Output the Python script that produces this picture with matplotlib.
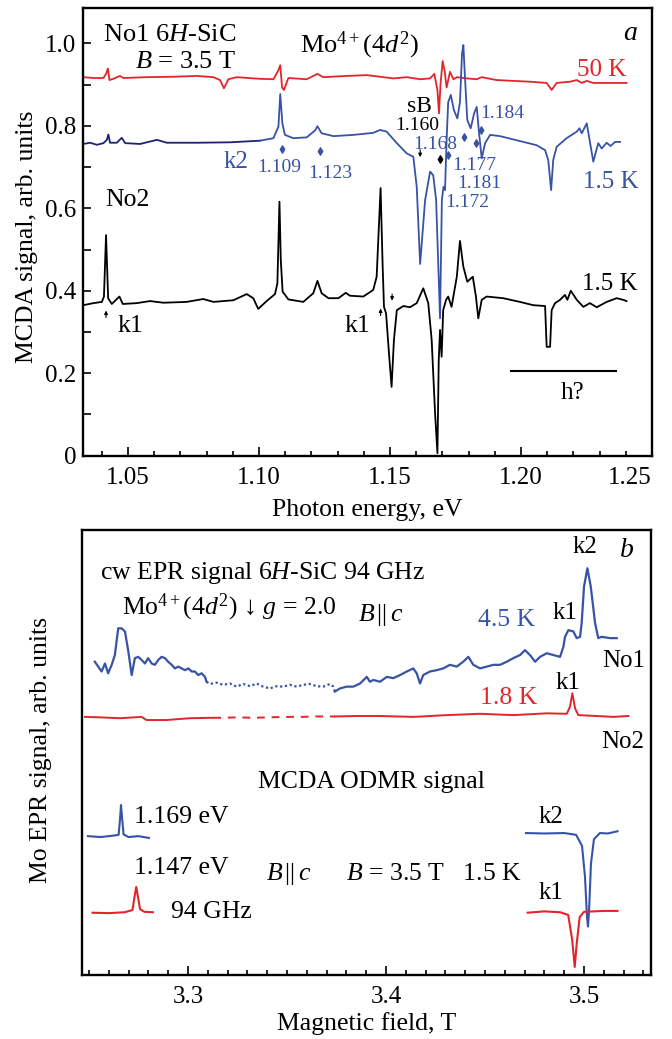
"""MCDA spectra and EPR / ODMR of Mo in 6H-SiC"""

import matplotlib.pyplot as plt
from matplotlib.ticker import MultipleLocator, FixedLocator

plt.rcParams["font.family"] = ["Liberation Serif", "DejaVu Serif"]
plt.rcParams["mathtext.fontset"] = "custom"
plt.rcParams["mathtext.rm"] = "Liberation Serif"
plt.rcParams["mathtext.it"] = "Liberation Serif:italic"

RED = "#e2252b"
BLUE = "#3853a6"
NAVY = "#1d2372"

# (a) MCDA spectra, photon energy (eV) vs signal (arb. units)
e_50k = [1.0329, 1.0368, 1.0406, 1.0416, 1.0423, 1.0429, 1.0444, 1.0469, 1.0482, 1.0571,
         1.0673, 1.0762, 1.0826, 1.0851, 1.0866, 1.0883, 1.0915, 1.1004, 1.1055, 1.1074,
         1.1081, 1.1088, 1.1095, 1.1112, 1.1182, 1.1223, 1.1245, 1.1335, 1.1411, 1.1462,
         1.1513, 1.1564, 1.1615, 1.1653, 1.1669, 1.1681, 1.1687, 1.1693, 1.1701, 1.1709,
         1.1716, 1.1729, 1.1742, 1.1757, 1.1793, 1.1831, 1.1850, 1.1907, 1.1971, 1.2034,
         1.2098, 1.2117, 1.2136, 1.2187, 1.2213, 1.2232, 1.2251, 1.2276, 1.2352, 1.2403]
s_50k = [0.918, 0.916, 0.916, 0.926, 0.939, 0.911, 0.914, 0.921, 0.916, 0.918,
         0.919, 0.921, 0.918, 0.911, 0.891, 0.913, 0.918, 0.914, 0.913, 0.935,
         0.947, 0.893, 0.887, 0.916, 0.913, 0.926, 0.918, 0.921, 0.923, 0.919,
         0.915, 0.918, 0.913, 0.915, 0.926, 0.887, 0.830, 0.903, 0.957, 0.931,
         0.893, 0.931, 0.913, 0.918, 0.915, 0.913, 0.918, 0.911, 0.909, 0.907,
         0.904, 0.887, 0.904, 0.907, 0.911, 0.904, 0.909, 0.904, 0.904, 0.904]

e_no1 = [1.0329, 1.0355, 1.0381, 1.0406, 1.0419, 1.0425, 1.0431, 1.0457, 1.0476, 1.0489,
         1.0546, 1.0610, 1.0648, 1.0762, 1.0889, 1.1004, 1.1055, 1.1074, 1.1081, 1.1089,
         1.1099, 1.1131, 1.1182, 1.1214, 1.1223, 1.1239, 1.1284, 1.1360, 1.1436, 1.1462,
         1.1487, 1.1526, 1.1564, 1.1589, 1.1602, 1.1615, 1.1634, 1.1653, 1.1665, 1.1676,
         1.1691, 1.1698, 1.1704, 1.1710, 1.1716, 1.1722, 1.1732, 1.1744, 1.1757, 1.1767,
         1.1775, 1.1780, 1.1786, 1.1795, 1.1808, 1.1821, 1.1831, 1.1840, 1.1850, 1.1863,
         1.1882, 1.1920, 1.1971, 1.2009, 1.2060, 1.2092, 1.2104, 1.2115, 1.2123, 1.2136,
         1.2174, 1.2213, 1.2223, 1.2232, 1.2251, 1.2276, 1.2295, 1.2308, 1.2327, 1.2342,
         1.2359, 1.2378]
s_no1 = [0.756, 0.759, 0.754, 0.758, 0.766, 0.779, 0.759, 0.759, 0.771, 0.758,
         0.756, 0.766, 0.759, 0.759, 0.760, 0.764, 0.770, 0.798, 0.877, 0.806,
         0.778, 0.770, 0.772, 0.789, 0.799, 0.782, 0.775, 0.778, 0.783, 0.790,
         0.786, 0.758, 0.733, 0.725, 0.652, 0.465, 0.620, 0.689, 0.680, 0.620,
         0.333, 0.620, 0.652, 0.644, 0.765, 0.857, 0.875, 0.838, 0.818, 0.857,
         0.976, 0.996, 0.919, 0.814, 0.794, 0.830, 0.846, 0.782, 0.721, 0.758,
         0.778, 0.775, 0.767, 0.761, 0.753, 0.741, 0.717, 0.644, 0.717, 0.749,
         0.770, 0.786, 0.794, 0.782, 0.806, 0.713, 0.758, 0.745, 0.759, 0.751,
         0.761, 0.761]

e_no2 = [1.0329, 1.0368, 1.0400, 1.0408, 1.0416, 1.0424, 1.0438, 1.0467, 1.0480, 1.0533,
         1.0584, 1.0635, 1.0724, 1.0787, 1.0826, 1.0902, 1.0953, 1.0978, 1.0997, 1.1029,
         1.1061, 1.1070, 1.1078, 1.1083, 1.1090, 1.1112, 1.1169, 1.1207, 1.1223, 1.1239,
         1.1265, 1.1303, 1.1331, 1.1347, 1.1398, 1.1436, 1.1449, 1.1464, 1.1472, 1.1477,
         1.1485, 1.1497, 1.1506, 1.1515, 1.1526, 1.1551, 1.1576, 1.1602, 1.1627, 1.1646,
         1.1659, 1.1672, 1.1681, 1.1686, 1.1691, 1.1697, 1.1703, 1.1714, 1.1722, 1.1735,
         1.1755, 1.1767, 1.1780, 1.1795, 1.1816, 1.1828, 1.1837, 1.1850, 1.1869, 1.1932,
         1.1996, 1.2047, 1.2092, 1.2098, 1.2111, 1.2117, 1.2130, 1.2149, 1.2168, 1.2177,
         1.2190, 1.2213, 1.2238, 1.2263, 1.2289, 1.2327, 1.2365, 1.2390, 1.2403]
s_no2 = [0.365, 0.370, 0.373, 0.386, 0.535, 0.382, 0.368, 0.386, 0.368, 0.370,
         0.375, 0.371, 0.373, 0.380, 0.373, 0.377, 0.392, 0.382, 0.356, 0.375,
         0.392, 0.418, 0.616, 0.475, 0.398, 0.379, 0.373, 0.394, 0.424, 0.394,
         0.382, 0.382, 0.395, 0.388, 0.386, 0.402, 0.434, 0.649, 0.458, 0.361,
         0.345, 0.240, 0.167, 0.281, 0.353, 0.363, 0.360, 0.370, 0.406, 0.370,
         0.281, 0.103, 0.006, 0.232, 0.305, 0.240, 0.353, 0.378, 0.386, 0.361,
         0.434, 0.521, 0.458, 0.422, 0.434, 0.386, 0.333, 0.378, 0.386, 0.382,
         0.373, 0.365, 0.363, 0.264, 0.264, 0.353, 0.370, 0.378, 0.390, 0.378,
         0.400, 0.378, 0.361, 0.370, 0.360, 0.373, 0.382, 0.378, 0.375]

# line positions marked in (a)
blue_marks_e = [1.1089, 1.1231, 1.1723, 1.1782, 1.1827, 1.1847]
blue_marks_s = [0.745, 0.739, 0.729, 0.774, 0.758, 0.790]
h_bar_e = [1.1962, 1.2363]
h_bar_s = 0.206

# (b) EPR and ODMR, magnetic field (T) vs signal (arb. units)
f_epr45 = [3.2530, 3.2547, 3.2564, 3.2581, 3.2597, 3.2615, 3.2631, 3.2648, 3.2665, 3.2682,
           3.2698, 3.2716, 3.2732, 3.2749, 3.2766, 3.2783, 3.2799, 3.2817, 3.2833, 3.2850,
           3.2867, 3.2884, 3.2900, 3.2918, 3.2934, 3.2951, 3.2968, 3.2985, 3.3002, 3.3019,
           3.3035, 3.3052, 3.3069, 3.3086, 3.3094, 3.3111, 3.3145, 3.3178, 3.3212, 3.3246,
           3.3279, 3.3313, 3.3347, 3.3380, 3.3414, 3.3448, 3.3481, 3.3515, 3.3549, 3.3582,
           3.3616, 3.3650, 3.3683, 3.3717, 3.3734, 3.3742, 3.3768, 3.3802, 3.3835, 3.3869,
           3.3903, 3.3919, 3.3936, 3.3970, 3.4004, 3.4037, 3.4071, 3.4105, 3.4138, 3.4155,
           3.4172, 3.4188, 3.4222, 3.4256, 3.4289, 3.4323, 3.4357, 3.4390, 3.4416, 3.4441,
           3.4475, 3.4509, 3.4542, 3.4576, 3.4610, 3.4643, 3.4677, 3.4702, 3.4727, 3.4753,
           3.4778, 3.4812, 3.4845, 3.4879, 3.4896, 3.4904, 3.4921, 3.4946, 3.4963, 3.4980,
           3.4988, 3.5000, 3.5017, 3.5034, 3.5056, 3.5072, 3.5089, 3.5131, 3.5165]
s_epr45 = [70.4, 69.3, 68.2, 70.0, 67.8, 69.7, 71.9, 77.9, 77.9, 77.2,
           73.0, 67.4, 71.2, 71.5, 70.8, 70.0, 71.2, 70.0, 69.7, 70.8,
           71.5, 71.2, 70.4, 69.7, 68.9, 69.3, 68.9, 68.5, 68.9, 68.2,
           68.2, 67.4, 67.8, 67.0, 65.9, 65.4, 65.7, 65.2, 65.5, 64.8,
           65.4, 64.9, 65.5, 64.8, 64.4, 64.9, 64.8, 65.2, 64.8, 65.2,
           65.4, 64.9, 64.8, 65.4, 64.8, 63.7, 64.4, 64.8, 64.8, 65.5,
           67.0, 65.9, 66.3, 65.9, 67.0, 66.7, 67.4, 68.2, 68.9, 67.8,
           65.5, 67.4, 68.2, 68.5, 68.9, 69.7, 69.3, 70.4, 71.5, 69.7,
           68.9, 69.3, 69.7, 69.7, 70.4, 71.2, 71.9, 73.0, 71.9, 70.4,
           71.5, 72.3, 71.9, 71.5, 73.8, 76.0, 77.5, 77.2, 75.7, 76.0,
           79.0, 87.3, 91.4, 87.3, 79.0, 75.7, 76.0, 75.7, 75.7]

f_epr18 = [3.2480, 3.2556, 3.2657, 3.2766, 3.2791, 3.2892, 3.3010, 3.3128, 3.3170, 3.3250,
           3.3330, 3.3410, 3.3490, 3.3570, 3.3650, 3.3742, 3.3850, 3.3970, 3.4138, 3.4307,
           3.4475, 3.4643, 3.4812, 3.4913, 3.4929, 3.4941, 3.4955, 3.4971, 3.5064, 3.5148,
           3.5224]
s_epr18 = [58.0, 57.9, 57.7, 58.0, 57.3, 57.3, 57.7, 57.8, 57.8, 57.9,
           57.8, 57.9, 58.0, 58.0, 58.1, 58.1, 58.2, 58.2, 58.0, 58.4,
           58.7, 58.4, 58.8, 58.7, 60.3, 63.3, 59.9, 58.4, 58.2, 58.0,
           58.2]
gap_blue = (3.3094, 3.3742)
gap_red = (3.3128, 3.3742)

f_odmr1169 = [3.2495, 3.2560, 3.2620, 3.2650, 3.2657, 3.2662, 3.2668, 3.2675, 3.2700, 3.2750, 3.2803]
s_odmr1169 = [31.2, 31.0, 31.3, 31.5, 35.0, 38.2, 35.0, 31.6, 31.0, 31.2, 30.8]
f_odmr1147 = [3.2518, 3.2600, 3.2680, 3.2720, 3.2730, 3.2739, 3.2748, 3.2758, 3.2780, 3.2823]
s_odmr1147 = [14.0, 13.9, 14.1, 14.6, 17.5, 19.8, 17.5, 14.8, 14.2, 14.1]
f_odmr_k2 = [3.4707, 3.4800, 3.4900, 3.4960, 3.4990, 3.5005, 3.5015, 3.5020, 3.5025, 3.5035,
             3.5050, 3.5080, 3.5120, 3.5169]
s_odmr_k2 = [31.9, 31.8, 31.9, 31.5, 29.0, 22.0, 13.0, 10.9, 14.0, 25.0, 30.5, 31.9, 31.8, 32.3]
f_odmr_k1 = [3.4715, 3.4800, 3.4880, 3.4920, 3.4940, 3.4953, 3.4963, 3.4978, 3.5000, 3.5100, 3.5169]
s_odmr_k1 = [14.0, 14.3, 14.1, 13.5, 8.0, 1.8, 7.0, 13.0, 14.2, 14.4, 14.4]


def style_axis(ax):
    for sp in ax.spines.values():
        sp.set_linewidth(1.7)
    ax.tick_params(axis="both", which="both", direction="in", width=1.2,
                   labelsize=18, top=False, right=False)
    ax.tick_params(axis="x", which="major", length=6.5, pad=8)
    ax.tick_params(axis="x", which="minor", length=3.5)


fig = plt.figure(figsize=(6.72, 10.39), dpi=100)
ax_a = fig.add_axes([0.1235, 0.5614, 0.8467, 0.4306])
ax_b = fig.add_axes([0.1220, 0.0616, 0.8467, 0.4283])

# ---- panel a
ax = ax_a
split = e_no1.index(1.1004)
ax.plot(e_50k, s_50k, color=RED, lw=1.3)
ax.plot(e_no1[:split + 1], s_no1[:split + 1], color=NAVY, lw=1.3)
ax.plot(e_no1[split:], s_no1[split:], color=BLUE, lw=1.3)
ax.plot(e_no2, s_no2, color="black", lw=1.3)
ax.plot(h_bar_e, [h_bar_s, h_bar_s], color="black", lw=1.5)
ax.scatter(blue_marks_e, blue_marks_s, marker="d", s=14, color=BLUE, zorder=3)
ax.scatter([1.1691], [0.719], marker="d", s=14, color="black", zorder=3)
for x0, y0, y1 in [(1.0416, 0.335, 0.352), (1.1464, 0.340, 0.357),
                   (1.1508, 0.392, 0.376), (1.1615, 0.742, 0.724)]:
    ax.annotate("", xy=(x0, y1), xytext=(x0, y0),
                arrowprops=dict(arrowstyle="-|>", lw=0.8, color="black",
                                mutation_scale=5, shrinkA=0, shrinkB=0))

ax.set_xlim(1.0328, 1.25)
ax.set_ylim(0, 1.085)
ax.xaxis.set_major_locator(FixedLocator([1.05, 1.10, 1.15, 1.20, 1.25]))
ax.xaxis.set_minor_locator(MultipleLocator(0.01))
ax.set_xticklabels(["1.05", "1.10", "1.15", "1.20", "1.25"])
ax.xaxis.get_majorticklabels()[-1].set_horizontalalignment("right")
ax.yaxis.set_major_locator(FixedLocator([0, 0.2, 0.4, 0.6, 0.8, 1.0]))
ax.yaxis.set_minor_locator(MultipleLocator(0.1))
ax.set_yticklabels(["0", "0.2", "0.4", "0.6", "0.8", "1.0"])
style_axis(ax)
ax.tick_params(axis="y", which="both", length=6, pad=5)
ax.set_xlabel("Photon energy, eV", fontsize=18.5, va="center")
ax.xaxis.set_label_coords(0.5, -0.121)
ax.set_ylabel("MCDA signal, arb. units", fontsize=18.5, va="center")
ax.yaxis.set_label_coords(-0.099, 0.49)

texts_a = [
    (r"No1 6$H$-SiC", 1.0405, 1.020, "black", 19),
    (r"$B$ = 3.5 T", 1.0527, 0.955, "black", 19),
    (r"Mo$^{4+}$(4$d^2$)", 1.1156, 0.996, "black", 19),
    ("50 K", 1.2215, 0.935, RED, 18),
    ("sB", 1.1565, 0.846, "black", 17),
    ("1.160", 1.1520, 0.801, "black", 14),
    ("1.168", 1.1588, 0.754, BLUE, 14),
    ("1.184", 1.1844, 0.829, BLUE, 14),
    ("1.177", 1.1737, 0.704, BLUE, 14),
    ("1.181", 1.1756, 0.661, BLUE, 14),
    ("1.172", 1.1710, 0.613, BLUE, 14),
    ("1.5 K", 1.2237, 0.663, BLUE, 18),
    ("k2", 1.0863, 0.712, BLUE, 18),
    ("1.109", 1.0992, 0.700, BLUE, 14),
    ("1.123", 1.1187, 0.685, BLUE, 14),
    ("No2", 1.0412, 0.620, "black", 18.5),
    ("k1", 1.0458, 0.314, "black", 18.5),
    ("k1", 1.1328, 0.314, "black", 18.5),
    ("1.5 K", 1.2233, 0.416, "black", 18),
    ("h?", 1.2150, 0.151, "black", 18),
]
for label, x, y, c, fs in texts_a:
    ax.text(x, y, label, color=c, fontsize=fs, ha="left", va="center")
ax.text(1.2416, 1.025, "a", fontsize=20, style="italic", ha="center", va="center")

# ---- panel b
ax = ax_b
solid_a = [i for i, f in enumerate(f_epr45) if f <= gap_blue[0]]
dotted = [i for i, f in enumerate(f_epr45) if gap_blue[0] <= f <= gap_blue[1]]
solid_b = [i for i, f in enumerate(f_epr45) if f >= gap_blue[1]]
for idx, ls in [(solid_a, "-"), (dotted, (0, (1, 1.2))), (solid_b, "-")]:
    ax.plot([f_epr45[i] for i in idx], [s_epr45[i] for i in idx],
            color=BLUE, lw=1.6, ls=ls)
r_a = [i for i, f in enumerate(f_epr18) if f <= gap_red[0]]
r_d = [i for i, f in enumerate(f_epr18) if gap_red[0] <= f <= gap_red[1]]
r_b = [i for i, f in enumerate(f_epr18) if f >= gap_red[1]]
for idx, ls in [(r_a, "-"), (r_d, (0, (4, 3.5))), (r_b, "-")]:
    ax.plot([f_epr18[i] for i in idx], [s_epr18[i] for i in idx],
            color=RED, lw=1.4, ls=ls)

ax.plot(f_odmr1169, s_odmr1169, color=BLUE, lw=1.5)
ax.plot(f_odmr1147, s_odmr1147, color=RED, lw=1.5)
ax.plot(f_odmr_k2, s_odmr_k2, color=BLUE, lw=1.5)
ax.plot(f_odmr_k1, s_odmr_k1, color=RED, lw=1.5)

ax.set_xlim(3.2465, 3.5338)
ax.set_ylim(0, 100)
ax.xaxis.set_major_locator(MultipleLocator(0.1))
ax.xaxis.set_minor_locator(MultipleLocator(0.01))
ax.xaxis.set_major_formatter(lambda v, p: f"{v:.1f}")
ax.set_yticks([])
style_axis(ax)
ax.set_xlabel("Magnetic field, T", fontsize=18.5, va="center")
ax.xaxis.set_label_coords(0.5, -0.110)
ax.set_ylabel("Mo EPR signal, arb. units", fontsize=18.5, va="center")
ax.yaxis.set_label_coords(-0.072, 0.505)

texts_b = [
    (r"cw EPR signal 6$H$-SiC 94 GHz", 3.2556, 90.3, "black", 18.5),
    (r"Mo$^{4+}$(4$d^2$) ↓ $g$ = 2.0", 3.2667, 82.7, "black", 18.5),
    (r"$B\,||\,c$", 3.3859, 80.9, "black", 18.5),
    ("4.5 K", 3.4465, 79.8, BLUE, 18.5),
    ("k1", 3.4843, 81.3, "black", 18),
    ("k2", 3.4944, 96.2, "black", 18),
    ("No1", 3.5091, 70.6, "black", 18),
    ("1.8 K", 3.4475, 62.2, RED, 18.5),
    ("k1", 3.4854, 65.6, "black", 18),
    ("No2", 3.5086, 52.4, "black", 18),
    ("MCDA ODMR signal", 3.3354, 43.4, "black", 18.5),
    ("1.169 eV", 3.2727, 35.5, "black", 18.5),
    ("1.147 eV", 3.2727, 24.0, "black", 18.5),
    ("94 GHz", 3.2914, 14.2, "black", 18.5),
    (r"$B\,||\,c$", 3.3394, 22.7, "black", 18.5),
    (r"$B$ = 3.5 T   1.5 K", 3.3798, 22.7, "black", 18.5),
    ("k2", 3.4773, 35.5, "black", 18),
    ("k1", 3.4773, 18.4, "black", 18),
]
for label, x, y, c, fs in texts_b:
    ax.text(x, y, label, color=c, fontsize=fs, ha="left", va="center")
ax.text(3.5217, 95.5, "b", fontsize=20, style="italic", ha="center", va="center")

fig.savefig("out.png", dpi=100)
plt.close(fig)
